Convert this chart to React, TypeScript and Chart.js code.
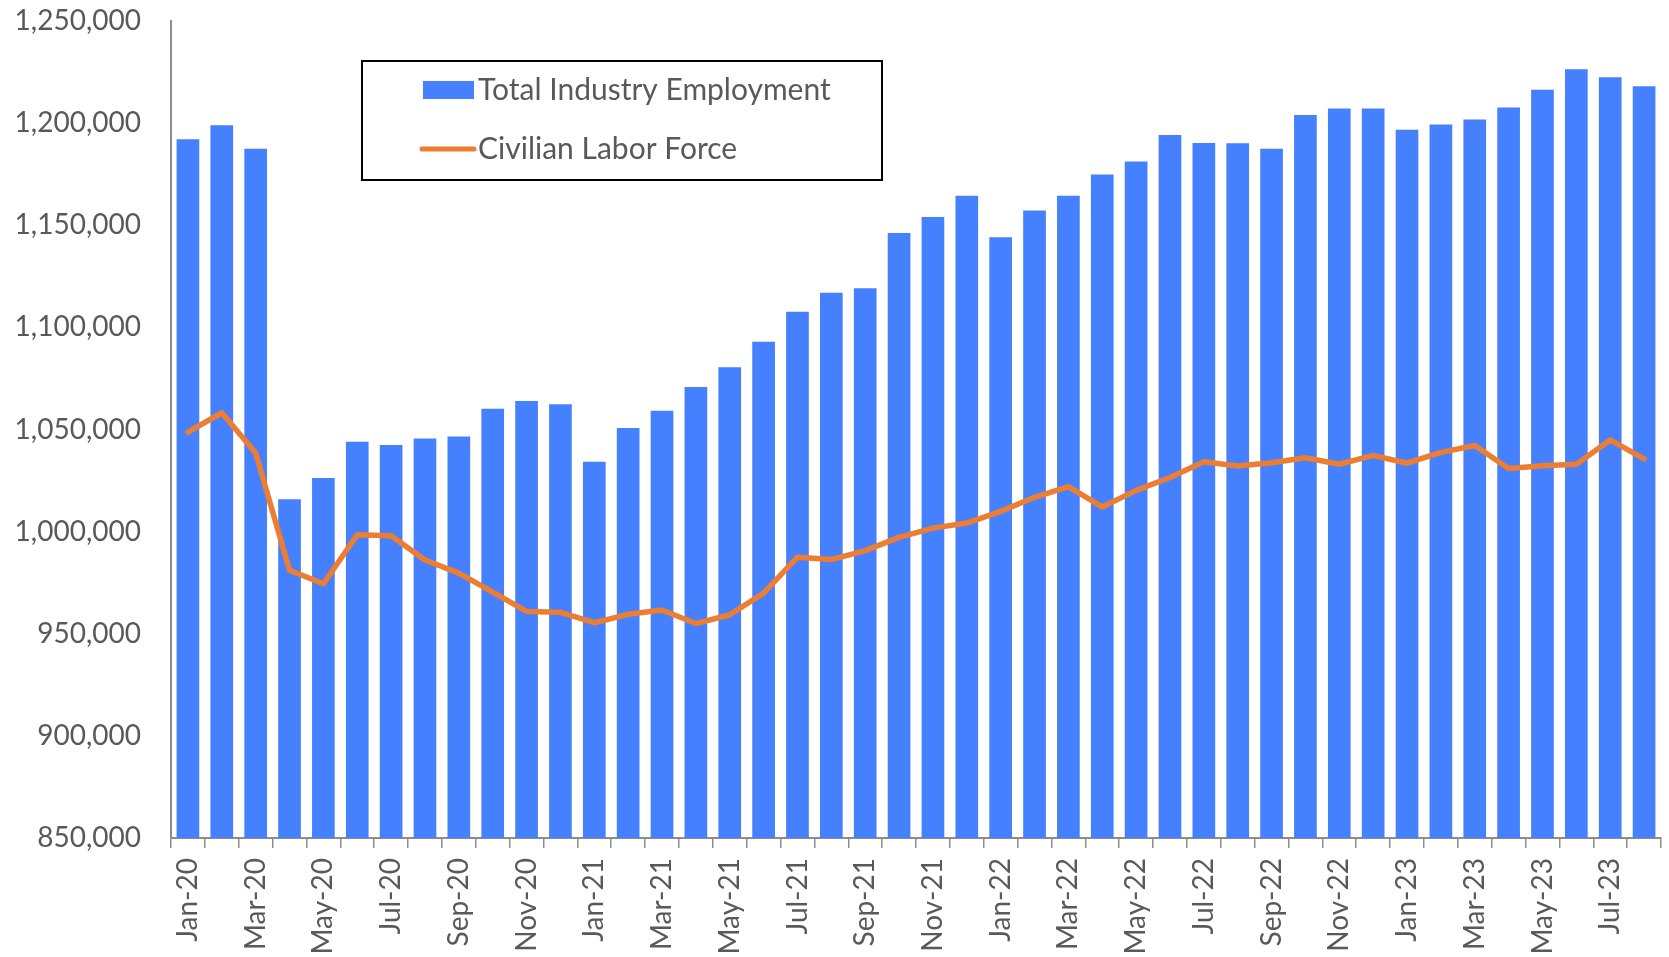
import React, { useEffect, useRef } from 'react';
import { Chart, registerables } from 'chart.js';

Chart.register(...registerables);

const months = [
  'Jan-20', 'Feb-20', 'Mar-20', 'Apr-20', 'May-20', 'Jun-20', 'Jul-20', 'Aug-20', 'Sep-20', 'Oct-20', 'Nov-20', 'Dec-20',
  'Jan-21', 'Feb-21', 'Mar-21', 'Apr-21', 'May-21', 'Jun-21', 'Jul-21', 'Aug-21', 'Sep-21', 'Oct-21', 'Nov-21', 'Dec-21',
  'Jan-22', 'Feb-22', 'Mar-22', 'Apr-22', 'May-22', 'Jun-22', 'Jul-22', 'Aug-22', 'Sep-22', 'Oct-22', 'Nov-22', 'Dec-22',
  'Jan-23', 'Feb-23', 'Mar-23', 'Apr-23', 'May-23', 'Jun-23', 'Jul-23', 'Aug-23',
];

const totalIndustryEmployment = [
  1192100, 1198900, 1187400, 1015800, 1026300, 1044000, 1042400, 1045600, 1046600, 1060200, 1063900, 1062400,
  1034200, 1050700, 1059200, 1070800, 1080500, 1093000, 1107600, 1117000, 1119100, 1146200, 1154000, 1164500,
  1144100, 1157200, 1164500, 1174900, 1181200, 1194200, 1190300, 1190200, 1187400, 1204000, 1207100, 1207100,
  1196700, 1199300, 1201800, 1207600, 1216400, 1226400, 1222500, 1218000,
];

const civilianLaborForce = [
  1048700, 1058200, 1038500, 981100, 974500, 998500, 998000, 986100, 979700, 970400, 960900, 960500,
  955400, 959500, 961600, 955000, 959300, 969900, 987500, 986300, 990700, 997200, 1001700, 1004200,
  1009900, 1016800, 1022000, 1012100, 1020200, 1026500, 1034200, 1032100, 1033700, 1036200, 1033000, 1037300,
  1033500, 1038800, 1042200, 1030900, 1032300, 1033000, 1044900, 1035600,
];

const seriesNames = ['Total Industry Employment', 'Civilian Labor Force'];

const yMin = 850000;
const yMax = 1250000;
const yStep = 50000;

const BAR_COLOR = '#4580FF';
const LINE_COLOR = '#ED7D31';
const TEXT_COLOR = '#595959';
const AXIS_COLOR = '#8C8C8C';
const FONT_FAMILY = 'Lato, "Open Sans", sans-serif';

const boxLegend = {
  id: 'boxLegend',
  afterDraw(chart: any) {
    const ctx = chart.ctx as CanvasRenderingContext2D;
    ctx.save();
    ctx.fillStyle = '#FFFFFF';
    ctx.fillRect(362, 61, 520, 119);
    ctx.strokeStyle = '#000000';
    ctx.lineWidth = 2;
    ctx.strokeRect(362, 61, 520, 119);

    ctx.fillStyle = BAR_COLOR;
    ctx.fillRect(423, 81, 51, 18);

    ctx.strokeStyle = LINE_COLOR;
    ctx.lineWidth = 5;
    ctx.lineCap = 'round';
    ctx.beginPath();
    ctx.moveTo(422, 149);
    ctx.lineTo(474, 149);
    ctx.stroke();

    ctx.font = `30px ${FONT_FAMILY}`;
    ctx.fillStyle = TEXT_COLOR;
    ctx.textBaseline = 'middle';
    ctx.textAlign = 'left';
    ctx.fillText(seriesNames[0], 478, 90);
    ctx.fillText(seriesNames[1], 478, 149);
    ctx.restore();
  },
};

export default function App() {
  const canvasRef = useRef<HTMLCanvasElement>(null);

  useEffect(() => {
    document.body.style.margin = '0';
    const canvas = canvasRef.current;
    if (!canvas) return;

    const chart = new Chart(canvas, {
      type: 'bar',
      data: {
        labels: months,
        datasets: [
          {
            type: 'line',
            label: seriesNames[1],
            data: civilianLaborForce,
            borderColor: LINE_COLOR,
            backgroundColor: LINE_COLOR,
            borderWidth: 5.5,
            pointRadius: 0,
            tension: 0,
            borderCapStyle: 'round',
            borderJoinStyle: 'round',
            order: 0,
          } as any,
          {
            type: 'bar',
            label: seriesNames[0],
            data: totalIndustryEmployment,
            backgroundColor: BAR_COLOR,
            borderWidth: 0,
            categoryPercentage: 1,
            barPercentage: 0.67,
            order: 1,
          } as any,
        ],
      },
      options: {
        animation: false,
        responsive: true,
        maintainAspectRatio: false,
        layout: { padding: { top: 21, right: 8, left: 0, bottom: 0 } },
        plugins: {
          legend: { display: false },
          tooltip: { enabled: false },
          title: { display: false },
        },
        scales: {
          x: {
            offset: true,
            grid: {
              display: true,
              offset: true,
              drawOnChartArea: false,
              drawTicks: true,
              tickLength: 10,
              color: AXIS_COLOR,
              lineWidth: 1.5,
            },
            border: { display: true, color: AXIS_COLOR, width: 2 },
            ticks: {
              autoSkip: false,
              maxRotation: 90,
              minRotation: 90,
              padding: 10,
              color: TEXT_COLOR,
              font: { family: FONT_FAMILY, size: 28 },
              callback: (_v: any, i: number) => (i % 2 === 0 ? months[i] : ''),
            },
            afterFit: (scale: any) => {
              scale.height = 119;
              scale.paddingLeft = 0;
              scale.paddingRight = 0;
            },
          },
          y: {
            min: yMin,
            max: yMax,
            grid: {
              display: true,
              drawOnChartArea: false,
              drawTicks: true,
              tickLength: 30,
              color: 'rgba(0,0,0,0)',
            },
            border: { display: true, color: AXIS_COLOR, width: 2 },
            ticks: {
              stepSize: yStep,
              padding: 0,
              color: TEXT_COLOR,
              font: { family: FONT_FAMILY, size: 28 },
              callback: (v: any) => Number(v).toLocaleString('en-US'),
            },
            afterFit: (scale: any) => {
              scale.width = 171;
            },
          },
        },
      },
      plugins: [boxLegend],
    });

    return () => chart.destroy();
  }, []);

  return (
    <div style={{ position: 'fixed', left: 0, top: 0, width: 1669, height: 957, background: '#FFFFFF' }}>
      <canvas ref={canvasRef} />
    </div>
  );
}
